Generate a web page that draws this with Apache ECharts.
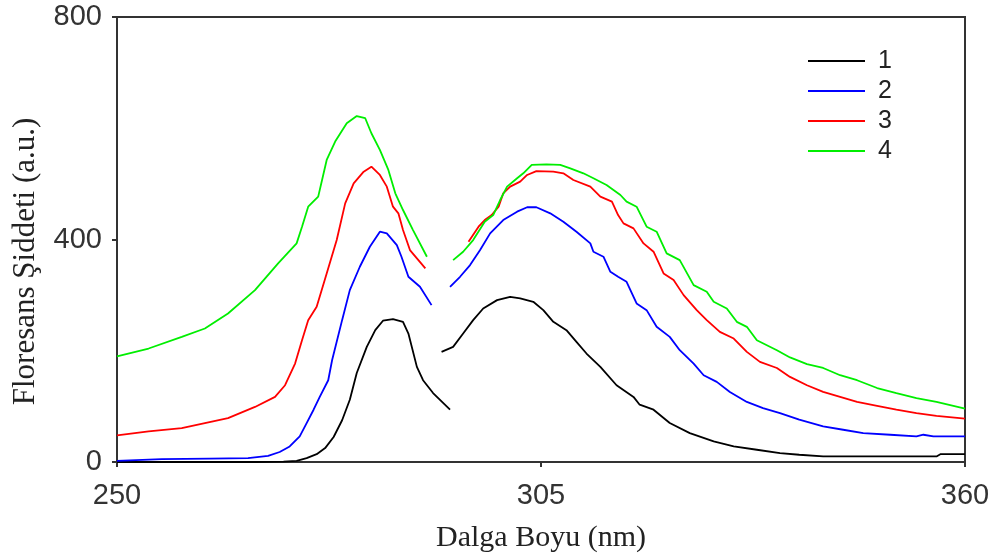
<!DOCTYPE html>
<html>
<head>
<meta charset="utf-8">
<script src="https://cdn.jsdelivr.net/npm/echarts@6/dist/echarts.min.js"></script>
<style>
  html, body { margin: 0; padding: 0; background: #fff; }
  #chart { width: 993px; height: 554px; }
</style>
</head>
<body>
<div id="chart"></div>
<script>
// Axis ticks
const xTicks = [250, 305, 360];
const yTicks = [0, 400, 800];
const seriesNames = ['1', '2', '3', '4'];
const seriesColors = ['#000000', '#0000ff', '#ff0000', '#00ee00'];

// Each sample has two spectral pieces: [wavelength nm, intensity a.u.]
const s1a = [[250,0],[256,0],[262,0],[268,0],[271.6,0.5],[273.3,2],[274.6,7],[275.9,14],[277,25],[278.1,45],[279.2,75],[280.2,112],[281.1,160],[282.4,207],[283.5,237],[284.5,254],[285.8,257],[287.1,252],[287.8,231],[288.9,171],[289.7,147],[291,124],[293.2,94]];
const s1b = [[292.1,198],[293.6,207],[294.9,231],[296.2,255],[297.5,276],[299.3,291],[301,297],[302.3,294],[304,288],[305.3,273],[306.6,252],[308.3,237],[309.6,216],[310.9,195],[312.7,171],[314.8,138],[317,117],[317.8,103],[319.6,94],[321.7,70],[324.3,52],[327.4,37],[330,28],[333,22],[336,16],[338.5,13],[341.6,10],[346,10],[356.3,10],[356.8,14],[360,14]];

const s2a = [[250,2],[255.8,5],[262,6],[267,7],[269.6,11],[271.1,18],[272.4,28],[273.7,46],[274.6,70],[275.5,94],[276.3,117],[277.4,147],[277.9,183],[279.2,255],[280.2,309],[281.5,351],[282.8,387],[284.1,414],[285,411],[286.3,390],[286.9,369],[287.8,333],[289.3,315],[290.8,282]];
const s2b = [[293.2,315],[294.5,333],[295.8,354],[297.1,381],[298.4,411],[300.1,435],[301.9,450],[303.2,458],[304.4,458],[306.2,447],[307.9,432],[309.6,414],[311.4,393],[311.8,378],[313.1,369],[314,342],[315,333],[316.1,324],[317.4,285],[318.7,273],[320,243],[321.7,225],[323,201],[324.8,177],[326.1,156],[327.8,144],[329.5,126],[331.7,108],[333.8,97],[336,88],[338.5,76],[341.6,64],[344.2,58],[346.8,52],[350.3,49],[353.7,46],[354.6,49],[355.9,46],[360,46]];

const s3a = [[250,48],[254.1,55],[258.4,61],[261.4,70],[264.4,79],[267.9,99],[270.5,117],[271.8,138],[273.1,177],[274,219],[274.8,255],[275.9,279],[277.2,339],[278.5,399],[279.6,465],[280.7,501],[282,522],[283,531],[284.1,516],[285,495],[285.8,459],[286.5,447],[287.1,417],[288,381],[290,348]];
const s3b = [[295.6,396],[296.9,423],[297.7,435],[298.6,444],[299.5,459],[300.1,483],[301,495],[302.3,504],[303.2,516],[304.4,523],[306.6,522],[307.9,519],[309.2,507],[311.4,495],[312.7,477],[314.2,468],[315,444],[315.7,429],[317,420],[318.3,393],[319.6,378],[320.9,339],[322.2,327],[323.5,300],[325.2,273],[326.5,255],[328.2,234],[330,222],[331.7,198],[333.4,180],[335.6,169],[337.3,153],[339.5,138],[341.6,126],[343.8,117],[346,108],[348.6,101],[351.1,94],[353.7,88],[356.3,83],[360,78]];

const s4a = [[250,190],[254.1,204],[258.4,225],[261.4,240],[264.4,267],[267.9,309],[270.9,357],[273.3,393],[274,423],[274.8,459],[276.1,477],[276.6,507],[277.2,543],[278.3,576],[279.8,609],[281.1,622],[282.2,618],[283,591],[284.1,561],[285.2,525],[286.1,483],[287.1,453],[288.4,417],[290.2,369]];
const s4b = [[293.6,363],[294.9,378],[296.2,399],[297.7,432],[298.8,444],[299.7,471],[300.6,495],[301.9,510],[302.7,519],[303.8,534],[305.7,535],[307.5,534],[308.8,528],[310.5,519],[311.8,510],[313.5,498],[315.3,480],[316.1,468],[317.4,459],[318.7,423],[320,414],[321.3,375],[323,363],[324.8,318],[326.5,306],[327.4,288],[329.1,276],[330.4,252],[331.7,243],[333,219],[335.6,201],[337.3,188],[339.5,176],[341.6,169],[343.8,156],[346,147],[348.6,133],[351.1,124],[353.7,115],[356.3,108],[360,96]];

const pieces = [[s1a, s1b], [s2a, s2b], [s3a, s3b], [s4a, s4b]];

const series = [];
pieces.forEach((pair, i) => {
  pair.forEach(seg => {
    series.push({
      name: seriesNames[i],
      type: 'line',
      data: seg,
      showSymbol: false,
      symbol: 'none',
      smooth: false,
      color: seriesColors[i],
      lineStyle: { color: seriesColors[i], width: 1.8 },
      emphasis: { disabled: true },
      z: 2 + i
    });
  });
});

const axisColor = '#333';
const chart = echarts.init(document.getElementById('chart'), null, { renderer: 'canvas' });
chart.setOption({
  animation: false,
  backgroundColor: '#fff',
  grid: {
    left: 117, right: 28, top: 17, bottom: 92,
    outerBoundsMode: 'none',
    show: true, borderColor: axisColor, borderWidth: 2
  },
  legend: {
    data: seriesNames,
    orient: 'vertical',
    left: 803, top: 43,
    icon: 'rect',
    itemWidth: 57, itemHeight: 2,
    itemGap: 4,
    textStyle: { fontFamily: 'Liberation Sans', fontSize: 25, color: '#222', lineHeight: 26, padding: [0, 0, 0, 8] }
  },
  xAxis: {
    type: 'value',
    min: 250, max: 360,
    name: 'Dalga Boyu (nm)',
    nameLocation: 'middle',
    nameGap: 76,
    nameTextStyle: { fontFamily: 'Liberation Serif', fontSize: 30, color: '#222', verticalAlign: 'middle' },
    axisLine: { show: true, onZero: false, lineStyle: { color: axisColor, width: 2 } },
    axisTick: { show: true, customValues: xTicks, length: 5, lineStyle: { color: axisColor, width: 2 } },
    axisLabel: { customValues: xTicks, margin: 19, fontFamily: 'Liberation Sans', fontSize: 29, color: '#333' },
    splitLine: { show: false }
  },
  yAxis: {
    type: 'value',
    min: 0, max: 800,
    name: 'Floresans Şiddeti (a.u.)',
    nameLocation: 'middle',
    nameGap: 91,
    nameRotate: 90,
    nameTextStyle: { fontFamily: 'Liberation Serif', fontSize: 31, color: '#222', verticalAlign: 'middle', padding: [0, 44, 0, 0] },
    axisLine: { show: true, lineStyle: { color: axisColor, width: 2 } },
    axisTick: { show: true, customValues: yTicks, length: 5, lineStyle: { color: axisColor, width: 2 } },
    axisLabel: { customValues: yTicks, margin: 15, fontFamily: 'Liberation Sans', fontSize: 29, color: '#333' },
    splitLine: { show: false }
  },
  series: series
});
</script>
</body>
</html>
